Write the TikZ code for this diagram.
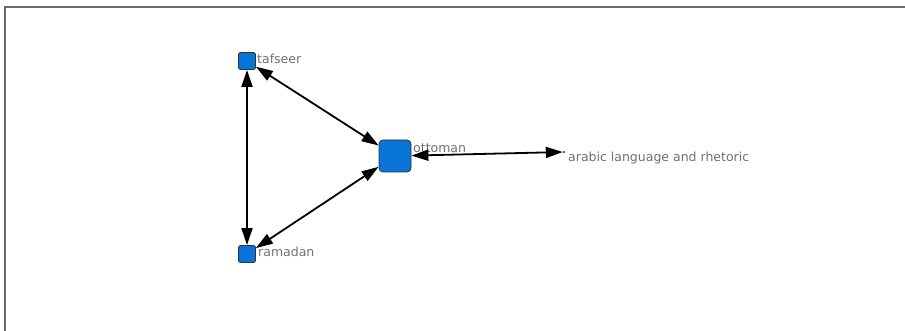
\documentclass[tikz,border=0pt]{standalone}
\usepackage{fontspec}
\setmainfont{DejaVu Sans}
\usetikzlibrary{arrows.meta}
\definecolor{nodeblue}{RGB}{8,116,216}
\definecolor{labgray}{RGB}{112,112,112}
\definecolor{framegray}{RGB}{105,105,105}
\begin{document}
\begin{tikzpicture}[x=1pt,y=-1pt,
 vtx/.style={draw=black!80, fill=nodeblue, line width=0.8pt, rounded corners=2pt, minimum size=17pt, inner sep=0pt},
 big/.style={vtx, minimum size=32pt, rounded corners=4pt},
 dot/.style={fill=nodeblue, inner sep=0pt, minimum size=2pt},
 lab/.style={text=labgray, font=\fontsize{12.5}{14}\selectfont, inner sep=0pt, anchor=base west},
 link/.style={line width=1.8pt, {Triangle[length=17pt,width=11pt]}-{Triangle[length=17pt,width=11pt]}}]
\useasboundingbox (0,0) rectangle (905,331);
\draw[framegray, line width=2pt] (5,331) -- (5,7.5) -- (905,7.5);
\node[vtx] (tafseer) at (247,61) {};
\node[big] (ottoman) at (395,156) {};
\node[vtx] (ramadan) at (247,254) {};
\node[dot] (arabic) at (564,152) {};
\node[lab] (tafseerL) at (257,64) {tafseer};
\node[lab] (ottomanL) at (413,153) {ottoman};
\node[lab] (ramadanL) at (258,256) {ramadan};
\node[lab] (arabicL) at (568,162) {arabic language and rhetoric};
\draw[link] (tafseer) -- (ottoman);
\draw[link] (tafseer) -- (ramadan);
\draw[link] (ramadan) -- (ottoman);
\draw[link] (ottoman) -- (arabic);
\end{tikzpicture}
\end{document}
